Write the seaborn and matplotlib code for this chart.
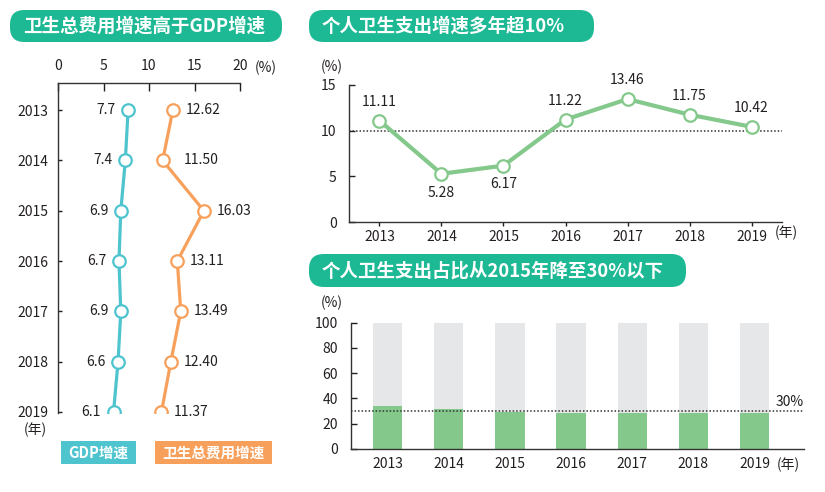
import numpy as np
import pandas as pd
import matplotlib
matplotlib.use("Agg")
import matplotlib.pyplot as plt
import seaborn as sns
from matplotlib.patches import FancyBboxPatch, Rectangle

# ---------------- data ----------------
years = ["2013", "2014", "2015", "2016", "2017", "2018", "2019"]
gdp_growth = [7.7, 7.4, 6.9, 6.7, 6.9, 6.6, 6.1]
health_growth = [12.62, 11.50, 16.03, 13.11, 13.49, 12.40, 11.37]
personal_growth = [11.11, 5.28, 6.17, 11.22, 13.46, 11.75, 10.42]
personal_share = [33.9, 31.99, 29.27, 28.78, 28.77, 28.61, 28.36]
total_share = [100, 100, 100, 100, 100, 100, 100]
left_xticks = [0, 5, 10, 15, 20]
top_yticks = [0, 5, 10, 15]
bottom_yticks = [0, 20, 40, 60, 80, 100]

# ---------------- style ----------------
sns.set_style("white")
plt.rcParams["font.family"] = ["Noto Sans CJK SC", "DejaVu Sans"]

TEAL = "#1db894"
CYAN = "#4ec4cf"
ORANGE = "#f7a05c"
GREEN = "#84c98b"
GREY = "#e6e7e9"
DARK = "#231f20"
SPINE = "#333333"

W, H = 825, 492
fig = plt.figure(figsize=(W / 100, H / 100), dpi=100)


def rect(l, t, r, b):
    return [l / W, 1 - b / H, (r - l) / W, (b - t) / H]


# overlay in pixel coordinates
ov = fig.add_axes([0, 0, 1, 1])
ov.set_xlim(0, W)
ov.set_ylim(H, 0)
ov.axis("off")


def banner(x0, y0, x1, y1, text):
    h = y1 - y0
    ov.add_patch(FancyBboxPatch((x0, y0), x1 - x0, h,
                                boxstyle=f"round,pad=0,rounding_size={h * 0.45}",
                                fc=TEAL, ec="none"))
    ov.text(x0 + 13, (y0 + y1) / 2 + 0.5, text, ha="left", va="center",
            fontsize=13.3, fontweight="bold", color="white")


banner(10, 10, 282, 42, "卫生总费用增速高于GDP增速")
banner(309, 10, 594, 42, "个人卫生支出增速多年超10%")
banner(309, 254, 686, 287, "个人卫生支出占比从2015年降至30%以下")

# legend boxes
ov.add_patch(Rectangle((61, 441), 75, 23, fc=CYAN, ec="none"))
ov.text(98.5, 452.5, "GDP增速", ha="center", va="center", fontsize=10.5,
        fontweight="bold", color="white")
ov.add_patch(Rectangle((155, 441), 117, 23, fc=ORANGE, ec="none"))
ov.text(213.5, 452.5, "卫生总费用增速", ha="center", va="center", fontsize=10.5,
        fontweight="bold", color="white")

# unit labels
ov.text(266, 68, "(%)", ha="center", va="center", fontsize=10, color=DARK)
ov.text(35, 430, "(年)", ha="center", va="center", fontsize=10, color=DARK)
ov.text(332, 67, "(%)", ha="center", va="center", fontsize=10, color=DARK)
ov.text(786, 233, "(年)", ha="center", va="center", fontsize=10, color=DARK)
ov.text(332, 303, "(%)", ha="center", va="center", fontsize=10, color=DARK)
ov.text(788, 465, "(年)", ha="center", va="center", fontsize=10, color=DARK)

# ---------------- left panel ----------------
axL = fig.add_axes(rect(58, 83, 240, 413))
dfL = pd.DataFrame({"pos": np.arange(len(years)), "gdp": gdp_growth,
                    "health": health_growth})
for col, c in (("gdp", CYAN), ("health", ORANGE)):
    sns.lineplot(data=dfL, x=col, y="pos", orient="y", sort=False, errorbar=None,
                 color=c, linewidth=2.3, marker="o", markersize=9,
                 markerfacecolor="white", markeredgecolor=c,
                 markeredgewidth=1.6, ax=axL)
axL.set_xlim(0, 20)
axL.set_ylim(6.02, -0.54)
axL.xaxis.tick_top()
axL.set_xticks(left_xticks)
axL.set_xticklabels([str(t) for t in left_xticks])
axL.set_yticks(range(len(years)))
axL.set_yticklabels(years)
axL.tick_params(axis="x", direction="in", length=6, width=1, pad=7,
                labelsize=10, colors=DARK, top=True, bottom=False)
axL.tick_params(axis="y", direction="in", length=3, width=1, pad=7,
                labelsize=10, colors=DARK, left=True)
axL.set_xlabel("")
axL.set_ylabel("")
for s in ("bottom", "right"):
    axL.spines[s].set_visible(False)
for s in ("top", "left"):
    axL.spines[s].set_visible(True)
    axL.spines[s].set_color(SPINE)
    axL.spines[s].set_linewidth(1)
for i, v in enumerate(gdp_growth):
    axL.annotate(f"{v:.1f}", (v, i), xytext=(-9, 0), textcoords="offset points",
                 ha="right", va="center", fontsize=10, color=DARK)
for i, v in enumerate(health_growth):
    dx = 15 if i == 1 else 9
    axL.annotate(f"{v:.2f}", (v, i), xytext=(dx, 0), textcoords="offset points",
                 ha="left", va="center", fontsize=10, color=DARK)

# ---------------- top right panel ----------------
axT = fig.add_axes(rect(349, 85, 782, 222))
dfT = pd.DataFrame({"pos": np.arange(len(years)), "val": personal_growth})
axT.axhline(10, color=SPINE, linestyle=(0, (1, 1.3)), linewidth=1.1, zorder=1)
sns.lineplot(data=dfT, x="pos", y="val", errorbar=None, color=GREEN,
             linewidth=3, marker="o", markersize=9, markerfacecolor="white",
             markeredgecolor=GREEN, markeredgewidth=1.6, ax=axT, zorder=3)
axT.set_xlim(-0.49, 6.49)
axT.set_ylim(0, 15)
axT.set_xticks(range(len(years)))
axT.set_xticklabels(years)
axT.set_yticks(top_yticks)
axT.tick_params(axis="x", direction="out", length=3, width=1, pad=3,
                labelsize=10, colors=DARK, bottom=True)
axT.tick_params(axis="y", direction="in", length=4, width=1, pad=9,
                labelsize=10, colors=DARK, left=True)
axT.set_xlabel("")
axT.set_ylabel("")
for s in ("top", "right"):
    axT.spines[s].set_visible(False)
for s in ("bottom", "left"):
    axT.spines[s].set_color(SPINE)
    axT.spines[s].set_linewidth(1)
below = {1, 2}
for i, v in enumerate(personal_growth):
    dy = -13.5 if i in below else 13.5
    axT.annotate(f"{v:.2f}", (i, v), xytext=(0, dy), textcoords="offset points",
                 ha="center", va="center", fontsize=10, color=DARK)

# ---------------- bottom right panel ----------------
axB = fig.add_axes(rect(350.7, 322.7, 804.3, 449))
sns.barplot(x=years, y=total_share, color=GREY, saturation=1, width=0.48,
            linewidth=0, ax=axB)
sns.barplot(x=years, y=personal_share, color=GREEN, saturation=1, width=0.48,
            linewidth=0, ax=axB)
axB.axhline(30, color=SPINE, linestyle=(0, (1, 1.3)), linewidth=1.1, zorder=5)
axB.set_xlim(-0.605, 6.815)
axB.set_ylim(0, 100)
axB.set_yticks(bottom_yticks)
axB.tick_params(axis="x", length=0, pad=6, labelsize=10, colors=DARK)
axB.tick_params(axis="y", direction="in", length=4, width=1, pad=9,
                labelsize=10, colors=DARK, left=True)
axB.set_xlabel("")
axB.set_ylabel("")
for s in ("top", "right"):
    axB.spines[s].set_visible(False)
for s in ("bottom", "left"):
    axB.spines[s].set_visible(True)
    axB.spines[s].set_color(SPINE)
    axB.spines[s].set_linewidth(1)
axB.text(6.8, 31.5, "30%", ha="right", va="bottom", fontsize=10, color=DARK)

fig.savefig("out.png", dpi=100, facecolor="white")
